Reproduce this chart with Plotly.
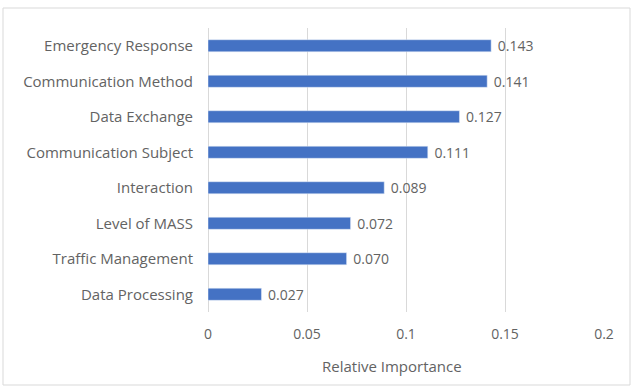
import plotly.graph_objects as go

categories = ["Emergency Response", "Communication Method", "Data Exchange",
              "Communication Subject", "Interaction", "Level of MASS",
              "Traffic Management", "Data Processing"]
values = [0.143, 0.141, 0.127, 0.111, 0.089, 0.072, 0.070, 0.027]
tick_vals = [0, 0.05, 0.1, 0.15, 0.2]
tick_text = ["0", "0.05", "0.1", "0.15", "0.2"]
x_title = "Relative Importance"

W, H = 632, 389
L, R, T, B = 208, 28, 28, 77
pw, ph = W - L - R, H - T - B
TXT = "#636363"
FONT = "Open Sans"

fig = go.Figure(go.Bar(
    x=values, y=categories, orientation="h",
    marker=dict(color="#4472C4"),
    text=["\u00a0" + f"{v:.3f}" for v in values], textposition="outside",
    constraintext="none",
    textfont=dict(color=TXT, size=14, family=FONT),
    cliponaxis=False,
))

fig.update_layout(
    width=W, height=H,
    margin=dict(l=L, r=R, t=T, b=B),
    paper_bgcolor="white", plot_bgcolor="white",
    bargap=0.66,
    showlegend=False,
    font=dict(family=FONT, size=14, color=TXT),
    xaxis=dict(range=[0, 0.2], tickvals=tick_vals, ticktext=tick_text,
               showgrid=True, gridcolor="#D9D9D9", gridwidth=1,
               zeroline=True, zerolinecolor="#D9D9D9", zerolinewidth=1,
               showline=False, ticks="", ticklabelstandoff=12,
               tickfont=dict(size=14, color=TXT)),
    yaxis=dict(categoryorder="array", categoryarray=categories[::-1],
               showgrid=False, showline=False, ticks="",
               tickfont=dict(size=15, color=TXT),
               ticklabelstandoff=14),
    annotations=[dict(text=x_title, xref="paper", yref="paper",
                      x=(392 - L) / pw, y=1 - (366 - T) / ph,
                      xanchor="center", yanchor="middle", showarrow=False,
                      font=dict(size=15, color=TXT, family=FONT))],
    shapes=[dict(type="rect", xref="paper", yref="paper",
                 x0=(3 - L) / pw, x1=(630 - L) / pw,
                 y0=1 - (385 - T) / ph, y1=1 + (T - 8) / ph,
                 line=dict(color="#D9D9D9", width=1), layer="below")],
)

fig.write_html("out.html")
